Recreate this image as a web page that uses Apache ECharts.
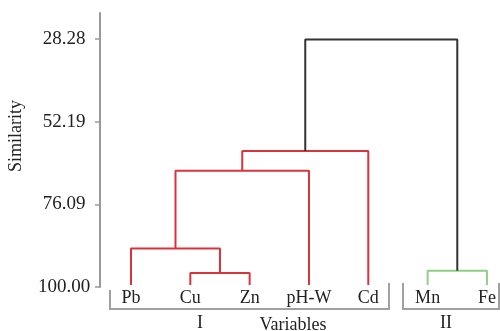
<!DOCTYPE html>
<html>
<head>
<meta charset="utf-8">
<script src="https://cdn.jsdelivr.net/npm/echarts@6/dist/echarts.min.js"></script>
<style>
  html, body { margin: 0; padding: 0; background: #fff; }
  #chart { width: 500px; height: 331px; }
</style>
</head>
<body>
<div id="chart"></div>
<script>
var leaves = ['Pb', 'Cu', 'Zn', 'pH-W', 'Cd', 'Mn', 'Fe'];
var leafLevel = 99.4;
// [left node, right node, similarity]; leaves are 0..6, merges are 7..
var merges = [
    [1, 2, 95.95],
    [0, 7, 88.9],
    [8, 3, 66.4],
    [9, 4, 60.7],
    [5, 6, 95.3],
    [10, 11, 28.4]
];
var mergeColors = ['#d8343e', '#d8343e', '#d8343e', '#d8343e', '#8fcf86', '#333333'];
var yTicks = [28.28, 52.19, 76.09, 100.00];

var font = 'Liberation Serif';
var nodeX = leaves.map(function (d, i) { return i; });
var nodeH = leaves.map(function () { return leafLevel; });
var series = [];
merges.forEach(function (m, k) {
    var a = m[0], b = m[1], h = m[2];
    series.push({
        type: 'line',
        symbol: 'none',
        silent: true,
        lineStyle: { color: mergeColors[k], width: 2 },
        data: [[nodeX[a], nodeH[a]], [nodeX[a], h], [nodeX[b], h], [nodeX[b], nodeH[b]]]
    });
    nodeX.push((nodeX[a] + nodeX[b]) / 2);
    nodeH.push(h);
});

var myChart = echarts.init(document.getElementById('chart'));
option = {
    animation: false,
    grid: { left: 100, right: 0, top: 13, bottom: 44 },
    xAxis: {
        type: 'value',
        min: -0.5225,
        max: 6.22,
        axisLine: { show: false },
        axisTick: { show: false },
        splitLine: { show: false },
        axisLabel: {
            customValues: nodeX.slice(0, leaves.length),
            formatter: function (v) { return leaves[Math.round(v)]; },
            margin: 2,
            fontFamily: font,
            fontSize: 18,
            color: '#222'
        }
    },
    yAxis: {
        type: 'value',
        inverse: true,
        min: 20.76,
        max: 100,
        splitLine: { show: false },
        axisLine: { show: true, onZero: false, lineStyle: { color: '#999', width: 2 } },
        axisTick: { show: true, customValues: yTicks, length: 5, lineStyle: { color: '#999', width: 1.5 } },
        axisLabel: {
            customValues: yTicks,
            formatter: function (v) { return v.toFixed(2); },
            align: 'center',
            margin: 36,
            fontFamily: font,
            fontSize: 19,
            color: '#222'
        }
    },
    graphic: [
        { type: 'polyline', shape: { points: [[110, 290], [110, 309], [389, 309], [389, 283]] }, style: { stroke: '#a0a0a0', lineWidth: 2, fill: null } },
        { type: 'polyline', shape: { points: [[403, 283], [403, 309], [499, 309], [499, 283]] }, style: { stroke: '#a0a0a0', lineWidth: 2, fill: null } },
        { type: 'text', x: 200, y: 323, style: { text: 'I', font: '18px "Liberation Serif"', fill: '#222', align: 'center', verticalAlign: 'middle' } },
        { type: 'text', x: 446, y: 323, style: { text: 'II', font: '18px "Liberation Serif"', fill: '#222', align: 'center', verticalAlign: 'middle' } },
        { type: 'text', x: 293, y: 325, style: { text: 'Variables', font: '18px "Liberation Serif"', fill: '#222', align: 'center', verticalAlign: 'middle' } },
        { type: 'text', x: 16, y: 136, rotation: Math.PI / 2, style: { text: 'Similarity', font: '18px "Liberation Serif"', fill: '#222', align: 'center', verticalAlign: 'middle' } }
    ],
    series: series
};
myChart.setOption(option);
</script>
</body>
</html>
